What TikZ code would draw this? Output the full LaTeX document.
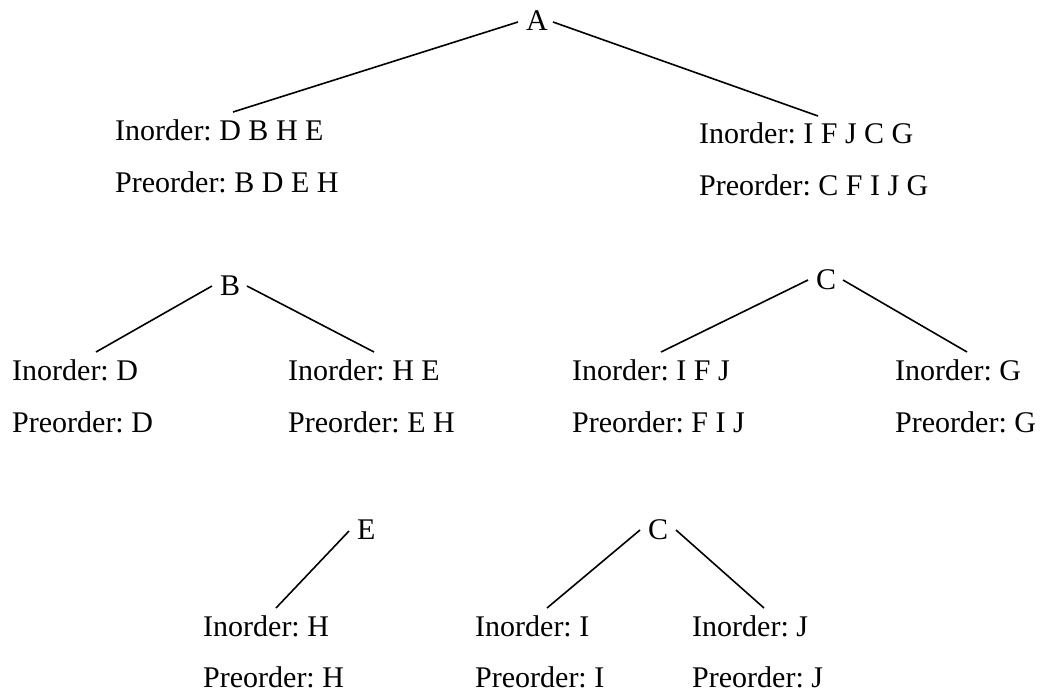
\documentclass[tikz,border=0pt]{standalone}
\usepackage{fontspec}
\setmainfont{Liberation Serif}
\frenchspacing
\begin{document}
\begin{tikzpicture}[x=1pt,y=-1pt,
  lbl/.style={anchor=base west,inner sep=0pt,font=\fontsize{30}{36}\selectfont},
  edge/.style={line width=1.6pt}]
\useasboundingbox (0,0) rectangle (1040,694);
% level 0
\node[lbl] (A) at (526,30) {A};
\node[lbl] (LI) at (115,140) {Inorder: D B H E};
\node[lbl] (LP) at (115,192) {Preorder: B D E H};
\node[lbl] (RI) at (699,143) {Inorder: I F J C G};
\node[lbl] (RP) at (699,195) {Preorder: C F I J G};
% level 1
\node[lbl] (B) at (220,295) {B};
\node[lbl] (BLI) at (12,380) {Inorder: D};
\node[lbl] (BLP) at (12,432) {Preorder: D};
\node[lbl] (BRI) at (288,380) {Inorder: H E};
\node[lbl] (BRP) at (288,432) {Preorder: E H};
\node[lbl] (C) at (816,289) {C};
\node[lbl] (CLI) at (572,380) {Inorder: I F J};
\node[lbl] (CLP) at (572,432) {Preorder: F I J};
\node[lbl] (CRI) at (895,380) {Inorder: G};
\node[lbl] (CRP) at (895,432) {Preorder: G};
% level 2
\node[lbl] (E) at (357,539) {E};
\node[lbl] (EI) at (203,636) {Inorder: H};
\node[lbl] (EP) at (203,687) {Preorder: H};
\node[lbl] (C2) at (648,539) {C};
\node[lbl] (C2LI) at (475,636) {Inorder: I};
\node[lbl] (C2LP) at (475,687) {Preorder: I};
\node[lbl] (C2RI) at (692,636) {Inorder: J};
\node[lbl] (C2RP) at (692,687) {Preorder: J};
% connector end points
\coordinate (A-l) at (518,22);   \coordinate (LI-t) at (233,112);
\coordinate (A-r) at (553,22);   \coordinate (RI-t) at (818,116);
\coordinate (B-l) at (212,286);  \coordinate (BLI-t) at (96,352);
\coordinate (B-r) at (247,286);  \coordinate (BRI-t) at (374,352);
\coordinate (C-l) at (808,280);  \coordinate (CLI-t) at (661,352);
\coordinate (C-r) at (843,280);  \coordinate (CRI-t) at (967,352);
\coordinate (E-l) at (349,531);  \coordinate (EI-t) at (276,608);
\coordinate (C2-l) at (640,530); \coordinate (C2LI-t) at (547,608);
\coordinate (C2-r) at (676,530); \coordinate (C2RI-t) at (764,608);
\draw[edge] (A-l) -- (LI-t);
\draw[edge] (A-r) -- (RI-t);
\draw[edge] (B-l) -- (BLI-t);
\draw[edge] (B-r) -- (BRI-t);
\draw[edge] (C-l) -- (CLI-t);
\draw[edge] (C-r) -- (CRI-t);
\draw[edge] (E-l) -- (EI-t);
\draw[edge] (C2-l) -- (C2LI-t);
\draw[edge] (C2-r) -- (C2RI-t);
\end{tikzpicture}
\end{document}
